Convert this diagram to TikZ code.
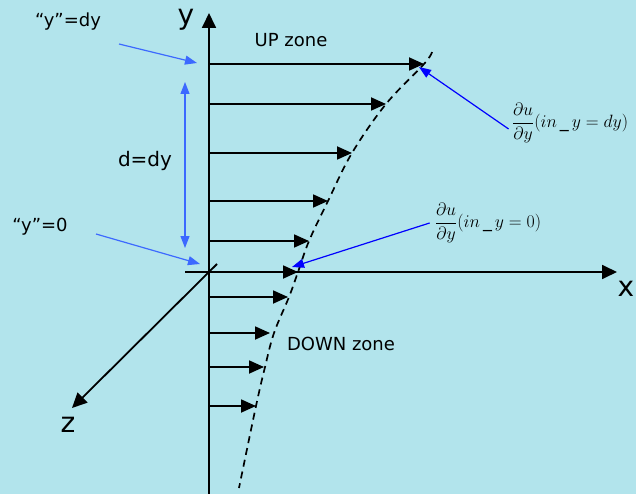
\documentclass[tikz,border=0pt]{standalone}
\usepackage{amsmath}
\usepackage{fontspec}
\setmainfont{DejaVu Sans}
\usetikzlibrary{arrows.meta,positioning}
\definecolor{water}{RGB}{178,228,236}
\definecolor{pointerblue}{RGB}{60,105,255}

\begin{document}
\begin{tikzpicture}[x=1pt,y=-1pt,
  axis/.style={line width=1.8pt, -{Triangle[length=15pt,width=14pt]}},
  flow/.style={line width=1.8pt, -{Triangle[length=15pt,width=13pt]}},
  pointer/.style={draw=pointerblue, line width=1.2pt, -{Triangle[length=12pt,width=9pt]}},
  axlabel/.style={font=\fontsize{28}{30}\selectfont, inner sep=0pt},
  zone/.style={font=\fontsize{18}{22}\selectfont, inner sep=0pt},
  tag/.style={font=\fontsize{18}{21}\selectfont, inner sep=0pt},
  deriv/.style={font=\fontsize{17.28}{21}\selectfont, inner sep=0pt, scale=1.03, transform shape}
]
  \fill[water] (0,0) rectangle (636,494);
  \useasboundingbox (0,0) rectangle (636,494);

  \coordinate (ybot) at (209,494);
  \coordinate (ytop) at (209,13);
  \coordinate (xbeg) at (185,272);
  \coordinate (xend) at (617,272);
  \coordinate (zbeg) at (217,264);
  \coordinate (zend) at (72,408);
  \draw[axis] (ybot) -- (ytop);
  \draw[axis] (xbeg) -- (xend);
  \draw[axis] (zbeg) -- (zend);

  \node[axlabel] (ylab) at (186,20) {y};
  \node[axlabel] (xlab) at (626,289) {x};
  \node[axlabel] (zlab) at (68,425) {z};

  \foreach \k/\h/\u in {1/64/424, 2/104/386, 3/153/352, 4/201/328, 5/241/309,
                        6/272/298, 7/297/288, 8/333/270, 9/367/264, 10/406/256}
  {
    \coordinate (s\k) at (209,\h);
    \coordinate (v\k) at (\u,\h);
    \draw[flow] (s\k) -- (v\k);
  }

  \draw[line width=1.7pt, dash pattern=on 7pt off 5pt]
    plot[smooth, tension=0.6] coordinates {(432,52) (v1) (v2) (v3) (v4) (v5) (v6)
      (289,297) (274,333) (265,367) (v10) (239,488)};

  \node[zone] (up) at (291,40) {UP zone};
  \node[zone] (down) at (341,344) {DOWN zone};

  \node[tag] (ydy) at (68,22) {“y”=dy};
  \coordinate (ydyfrom) at (119,44);
  \coordinate (ydyto) at (197,63);
  \draw[pointer] (ydyfrom) -- (ydyto);

  \node[tag] (yzero) at (40,227) {“y”=0};
  \coordinate (yzerofrom) at (96,234);
  \coordinate (yzeroto) at (200,264);
  \draw[pointer] (yzerofrom) -- (yzeroto);

  \node[font=\fontsize{20}{24}\selectfont, inner sep=0pt] (dlab) at (145,161) {d=dy};
  \coordinate (dtop) at (185,82);
  \coordinate (dbot) at (185,248);
  \draw[pointer, {Triangle[length=12pt,width=9pt]}-{Triangle[length=12pt,width=9pt]}]
    (dtop) -- (dbot);

  \node[deriv] (dutop) at (570,123) {$\dfrac{\partial u}{\partial y}(in\,\_\,y=dy)$};
  \node[deriv] (dubot) at (488,223) {$\dfrac{\partial u}{\partial y}(in\,\_\,y=0)$};
  \coordinate (dutopto) at (419,67);
  \coordinate (dubotto) at (292,267);
  \draw[pointer, draw=blue, -{Triangle[length=12pt,width=9pt,fill=blue]}]
    ([xshift=-3pt,yshift=-6pt]dutop.west) -- (dutopto);
  \draw[pointer, draw=blue, -{Triangle[length=12pt,width=9pt,fill=blue]}]
    ([xshift=-5pt]dubot.west) -- (dubotto);
\end{tikzpicture}
\end{document}
